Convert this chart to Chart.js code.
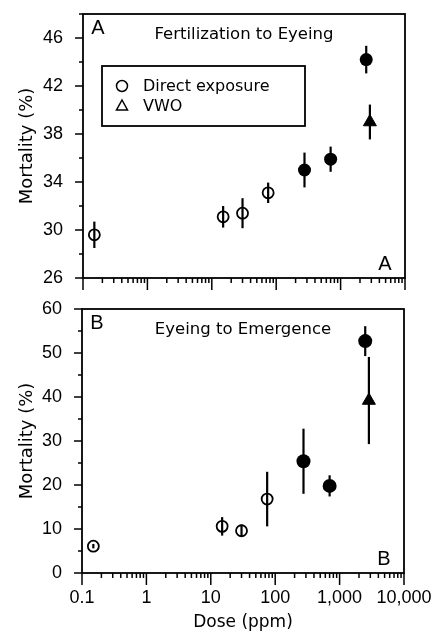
<!DOCTYPE html>
<html>
<head>
<meta charset="utf-8">
<title>Mortality vs dose</title>
<script src="https://cdn.jsdelivr.net/npm/chart.js@4.4.1/dist/chart.umd.min.js"></script>
<style>
  html, body { margin: 0; padding: 0; background: #fff; }
  #wrap { position: relative; width: 435px; height: 635px; }
  #chartA { position: absolute; left: 0; top: 0; }
  #chartB { position: absolute; left: 0; top: 300px; }
</style>
</head>
<body>
<div id="wrap">
  <canvas id="chartA" width="435" height="300"></canvas>
  <canvas id="chartB" width="435" height="335"></canvas>
</div>
<script>
// Doses (ppm)
const doseOpen = [0.15, 15, 30, 75];
const doseFilled = [275, 700, 2500];
const doseVWO = [2850];

// Panel A - fertilization to eyeing (mortality %, +/- error)
const mortOpenA = [29.6, 31.1, 31.4, 33.1];
const errOpenA = [1.1, 0.9, 1.25, 0.85];
const mortFilledA = [35.0, 35.9, 44.2];
const errFilledA = [1.45, 1.05, 1.15];
const mortVWOA = [39.0];
const errVWOA = [1.45];

// Panel B - eyeing to emergence
const mortOpenB = [6.1, 10.6, 9.6, 16.8];
const errOpenB = [0.5, 2.1, 1.4, 6.2];
const mortFilledB = [25.4, 19.8, 52.7];
const errFilledB = [7.4, 2.4, 3.4];
const mortVWOB = [39.2];
const errVWOB = [9.9];

// Axis ticks
const doseTicks = [0.1, 1, 10, 100, 1000, 10000];
const doseTickLabels = ['0.1', '1', '10', '100', '1,000', '10,000'];
const yTicksA = [26, 30, 34, 38, 42, 46];
const yTicksB = [0, 10, 20, 30, 40, 50, 60];

Chart.defaults.font.family = '"Liberation Sans", Arial, sans-serif';
Chart.defaults.color = '#000';

function toPoints(xs, ys, errs) {
    return xs.map((x, i) => ({ x: x, y: ys[i], err: errs[i] }));
}

// all log ticks: decades plus 2..9 between them
function logTickValues() {
    const vals = [];
    doseTicks.forEach((d, i) => {
        vals.push(d);
        if (i < doseTicks.length - 1) {
            for (let k = 2; k <= 9; k++) vals.push(Number((d * k).toPrecision(3)));
        }
    });
    return vals;
}

/**
 * Error bars, frame, tick marks, panel letters and legend
 */
const panelDecor = {
    id: 'panelDecor',
    afterDatasetsDraw(chart) {
        const ctx = chart.ctx;
        const ys = chart.scales.y;
        ctx.save();
        ctx.strokeStyle = '#000';
        ctx.lineWidth = 2.2;
        chart.data.datasets.forEach((ds, di) => {
            const meta = chart.getDatasetMeta(di);
            ds.data.forEach((p, i) => {
                const x = meta.data[i].x;
                ctx.beginPath();
                ctx.moveTo(x, ys.getPixelForValue(p.y + p.err));
                ctx.lineTo(x, ys.getPixelForValue(p.y - p.err));
                ctx.stroke();
            });
        });
        ctx.restore();
    },
    afterDraw(chart, args, opts) {
        const ctx = chart.ctx;
        const { left, right, top, bottom } = chart.chartArea;
        const xs = chart.scales.x;
        const ys = chart.scales.y;
        ctx.save();
        ctx.strokeStyle = '#000';
        ctx.fillStyle = '#000';
        ctx.lineWidth = 1.8;
        ctx.strokeRect(left, top, right - left, bottom - top);

        ctx.lineWidth = 1.5;
        xs.ticks.forEach(t => {
            const px = xs.getPixelForValue(t.value);
            const len = doseTicks.includes(t.value) ? 12 : 5;
            ctx.beginPath();
            ctx.moveTo(px, bottom);
            ctx.lineTo(px, bottom + len);
            ctx.stroke();
        });
        ys.ticks.forEach(t => {
            const py = ys.getPixelForValue(t.value);
            const len = opts.yMajor.includes(t.value) ? 8 : 4;
            ctx.beginPath();
            ctx.moveTo(left, py);
            ctx.lineTo(left - len, py);
            ctx.stroke();
        });

        // panel letters and title
        ctx.textBaseline = 'middle';
        ctx.font = '20px "Liberation Sans", Arial, sans-serif';
        ctx.textAlign = 'center';
        ctx.fillText(opts.letter, left + 15, top + 14);
        ctx.fillText(opts.letter, right - 20, bottom - 14);
        ctx.font = '16.5px "DejaVu Sans", sans-serif';
        ctx.fillText(opts.title, (left + right) / 2, top + 21);

        if (opts.legend) {
            const bx = left + 19, by = top + 52, bw = 203, bh = 60;
            ctx.lineWidth = 1.8;
            ctx.strokeRect(bx, by, bw, bh);
            const items = [
                { label: chart.data.datasets[0].label, style: 'circle' },
                { label: chart.data.datasets[2].label, style: 'triangle' }
            ];
            ctx.font = '16px "DejaVu Sans", sans-serif';
            ctx.textAlign = 'left';
            items.forEach((it, i) => {
                const cy = by + 20 + i * 20;
                const cx = bx + 20;
                ctx.lineWidth = 1.5;
                ctx.beginPath();
                if (it.style === 'circle') {
                    ctx.arc(cx, cy, 5.5, 0, Math.PI * 2);
                } else {
                    ctx.moveTo(cx, cy - 6);
                    ctx.lineTo(cx + 5.5, cy + 4);
                    ctx.lineTo(cx - 5.5, cy + 4);
                    ctx.closePath();
                }
                ctx.stroke();
                ctx.fillText(it.label, bx + 41, cy + 1);
            });
        }
        ctx.restore();
    }
};

function makePanel(id, p) {
    return new Chart(document.getElementById(id), {
        type: 'scatter',
        data: {
            datasets: [
                {
                    label: 'Direct exposure',
                    data: toPoints(doseOpen, p.open, p.openErr),
                    pointStyle: 'circle',
                    pointRadius: 5.5,
                    pointBackgroundColor: 'rgba(0,0,0,0)',
                    pointBorderColor: '#000',
                    pointBorderWidth: 1.8
                },
                {
                    label: 'Direct exposure (significant)',
                    data: toPoints(doseFilled, p.filled, p.filledErr),
                    pointStyle: 'circle',
                    pointRadius: p.filledRadius,
                    pointBackgroundColor: '#000',
                    pointBorderColor: '#000',
                    pointBorderWidth: 0
                },
                {
                    label: 'VWO',
                    data: toPoints(doseVWO, p.vwo, p.vwoErr),
                    pointStyle: 'triangle',
                    pointRadius: 7.5,
                    pointBackgroundColor: '#000',
                    pointBorderColor: '#000',
                    pointBorderWidth: 1
                }
            ]
        },
        options: {
            responsive: false,
            animation: false,
            layout: { padding: { top: p.padTop, right: p.padRight, left: 0, bottom: 0 } },
            plugins: {
                legend: { display: false },
                tooltip: { enabled: false },
                panelDecor: {
                    letter: p.letter,
                    title: p.title,
                    legend: p.legend,
                    yMajor: p.yTicks
                }
            },
            scales: {
                x: {
                    type: 'logarithmic',
                    min: 0.1,
                    max: 10000,
                    afterBuildTicks: function(scale) {
                        scale.ticks = logTickValues().map(v => ({ value: v }));
                    },
                    afterFit: function(scale) {
                        scale.height = p.xHeight;
                        scale.paddingLeft = 0;
                        scale.paddingRight = 0;
                    },
                    grid: { display: false },
                    border: { display: false },
                    ticks: {
                        display: p.xLabels,
                        autoSkip: false,
                        maxRotation: 0,
                        minRotation: 0,
                        padding: 6,
                        font: { size: 18 },
                        callback: function(value) {
                            const i = doseTicks.indexOf(value);
                            return i >= 0 ? doseTickLabels[i] : '';
                        }
                    },
                    title: {
                        display: p.xLabels,
                        text: 'Dose (ppm)',
                        font: { family: '"DejaVu Sans", sans-serif', size: 17 },
                        padding: { top: 0, bottom: 2 }
                    }
                },
                y: {
                    min: p.yMin,
                    max: p.yMax,
                    afterBuildTicks: function(scale) {
                        const vals = [];
                        for (let v = p.yMin; v <= p.yMax; v += p.yStep) vals.push(v);
                        scale.ticks = vals.map(v => ({ value: v }));
                    },
                    afterFit: function(scale) {
                        scale.width = p.yWidth;
                        scale.paddingTop = 0;
                        scale.paddingBottom = 0;
                    },
                    grid: { display: false },
                    border: { display: false },
                    ticks: {
                        autoSkip: false,
                        padding: 12,
                        font: { size: 18 },
                        callback: function(value) {
                            return p.yTicks.includes(value) ? String(value) : '';
                        }
                    },
                    title: {
                        display: true,
                        text: 'Mortality (%)',
                        font: { family: '"DejaVu Sans", sans-serif', size: 18 },
                        padding: { top: 17, bottom: 0 }
                    }
                }
            }
        },
        plugins: [panelDecor]
    });
}

document.addEventListener('DOMContentLoaded', function() {
    makePanel('chartA', {
        open: mortOpenA, openErr: errOpenA,
        filled: mortFilledA, filledErr: errFilledA,
        vwo: mortVWOA, vwoErr: errVWOA,
        filledRadius: 6.5,
        yMin: 26, yMax: 48, yStep: 2, yTicks: yTicksA,
        letter: 'A', title: 'Fertilization to Eyeing', legend: true,
        xLabels: false, xHeight: 22, yWidth: 83, padTop: 14, padRight: 30
    });
    makePanel('chartB', {
        open: mortOpenB, openErr: errOpenB,
        filled: mortFilledB, filledErr: errFilledB,
        vwo: mortVWOB, vwoErr: errVWOB,
        filledRadius: 7,
        yMin: 0, yMax: 60, yStep: 5, yTicks: yTicksB,
        letter: 'B', title: 'Eyeing to Emergence', legend: false,
        xLabels: true, xHeight: 62, yWidth: 82, padTop: 9, padRight: 31
    });
});
</script>
</body>
</html>
